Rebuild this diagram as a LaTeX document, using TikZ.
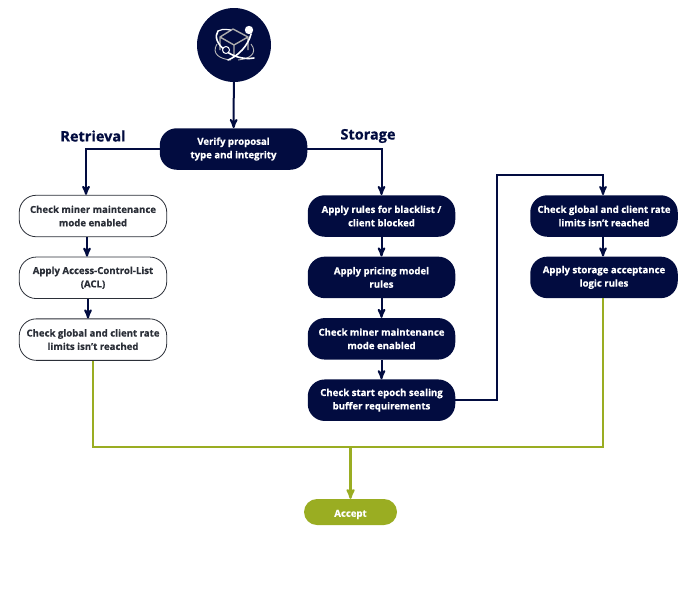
\documentclass[tikz,border=0pt]{standalone}
\usepackage{fontspec}
\setmainfont{Open Sans}[BoldFeatures={FakeBold=0.6}]
\usetikzlibrary{positioning,arrows}
\definecolor{navy}{HTML}{020C40}
\definecolor{olive}{HTML}{9AAD22}
\definecolor{boxtext}{HTML}{2B2F38}
\tikzset{
  step box/.style={rectangle, rounded corners=17pt, minimum width=147.5pt, minimum height=41.5pt,
    align=center, font=\bfseries\fontsize{9.6}{13.4}\selectfont, inner sep=0pt},
  dark box/.style={step box, fill=navy, text=white},
  light box/.style={step box, draw=boxtext, fill=white, text=boxtext, line width=0.8pt},
  heading/.style={font=\bfseries\fontsize{14.5}{16}\selectfont, text=navy, inner sep=0pt},
  flow/.style={draw=navy, line width=2pt, -stealth'},
  merge/.style={draw=olive, line width=2.2pt}
}
\begin{document}
\begin{tikzpicture}[x=1pt,y=-1pt]
  \useasboundingbox (0,0) rectangle (700,600);
  % logo
  \node[circle, fill=navy, minimum size=74pt, inner sep=0pt] (logo) at (234,45) {};
  \draw[gray!65, line width=1.4pt, line join=round] (233,29) -- (248,37) -- (248,50) (220,50) -- (220,37) -- (233,29)
    (220,37) -- (234,45) -- (248,37) (234,45) -- (234,56);
  \draw[gray!55, line width=0.9pt] (217,44) .. controls (211,54) and (220,59) .. (231,60)
    (251,44) .. controls (258,53) and (250,59) .. (238,60);
  \draw[white, line width=1.6pt, line cap=round] (218,31) .. controls (210,42) and (232,62) .. (254,58)
    (251,34) .. controls (248,46) and (238,56) .. (228,60);
  \draw[white, line width=1.2pt] (218,31) .. controls (224,28) and (228,30) .. (231,30);
  \fill[white] (249,30) circle (4.2);
  \draw[white, fill=navy, line width=1pt] (226,50) circle (3.5);
  % main nodes
  \node[dark box] (verify) at (233.5,149) {Verify proposal\\type and integrity};
  \node[heading] (retrieval) at (93,136) {Retrieval};
  \node[heading] (storage) at (368,136) {Storage};

  \node[light box] (ret1) at (93,216) {Check miner maintenance\\mode enabled};
  \node[light box, below=19.5pt of ret1] (ret2) {Apply Access-Control-List\\(ACL)};
  \node[light box, below=19.5pt of ret2] (ret3) {Check global and client rate\\limits isn't reached};

  \node[dark box] (sto1) at (381.5,216) {Apply rules for blacklist /\\client blocked};
  \node[dark box, below=19.5pt of sto1] (sto2) {Apply pricing model\\rules};
  \node[dark box, below=19.5pt of sto2] (sto3) {Check miner maintenance\\mode enabled};
  \node[dark box, below=19.5pt of sto3] (sto4) {Check start epoch sealing\\buffer requirements};

  \node[dark box] (sto5) at (604,216) {Check global and client rate\\limits isn't reached};
  \node[dark box, below=19.5pt of sto5] (sto6) {Apply storage acceptance\\logic rules};

  \node[rectangle, rounded corners=13pt, fill=olive, text=white, minimum width=93pt, minimum height=26pt,
    font=\bfseries\fontsize{9.6}{11}\selectfont, text height=9.5pt, text depth=0pt, inner sep=0pt] (accept) at (350.5,512) {Accept};

  % connectors
  \coordinate (joinleft) at (93,447);
  \coordinate (joinmid) at (350.5,447);
  \coordinate (joinright) at (603,447);
  \coordinate (hop2) at (497,175);
  \coordinate (hop3) at (603,175);

  \draw[flow] (logo) -- (verify);
  \draw[flow] (verify.west) -| (ret1.north -| 86,0);
  \draw[flow] (verify.east) -| (sto1);
  \draw[flow] ([xshift=-6pt]ret1.south) -- ([xshift=-6pt]ret2.north);
  \draw[flow] ([xshift=-5pt]ret2.south) -- ([xshift=-5pt]ret3.north);
  \draw[flow] (sto1) -- (sto2);
  \draw[flow] (sto2) -- (sto3);
  \draw[flow] (sto3) -- (sto4);
  \draw[flow] (sto4.east) -| (hop2) -- (hop3) -- (sto5.north -| hop3);
  \draw[flow] (sto5.south -| hop3) -- (sto6.north -| hop3);
  \draw[merge] (ret3.south) -- (joinleft) -- (joinright) -- (sto6.south -| joinright);
  \draw[merge, -stealth'] (joinmid) -- (accept);
\end{tikzpicture}
\end{document}
